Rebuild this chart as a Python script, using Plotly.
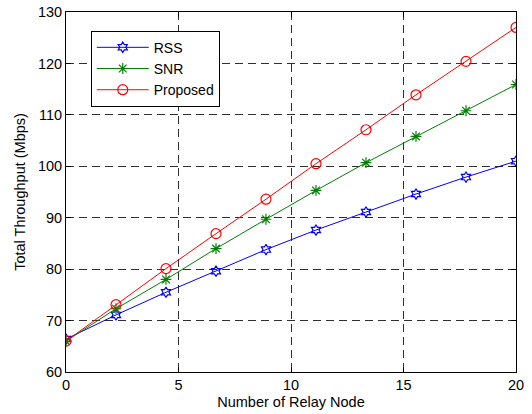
import numpy as np
import plotly.graph_objects as go

relay_nodes = [0, 2.222, 4.444, 6.667, 8.889, 11.111, 13.333, 15.556, 17.778, 20]
rss = [66.4, 71.1, 75.5, 79.6, 83.8, 87.6, 91.1, 94.6, 97.9, 101.0]
snr = [66.0, 72.3, 78.0, 84.0, 89.7, 95.3, 100.7, 105.8, 110.8, 115.9]
proposed = [66.0, 73.1, 80.1, 86.9, 93.6, 100.5, 107.1, 113.9, 120.4, 127.0]

x_ticks = [0, 5, 10, 15, 20]
y_ticks = [60, 70, 80, 90, 100, 110, 120, 130]

FONT = "Liberation Sans, Arial, Helvetica"

fig = go.Figure()
fig.add_trace(go.Scatter(x=relay_nodes, y=rss, name="RSS", mode="lines+markers",
                         line=dict(color="#0000ff", width=1),
                         marker=dict(symbol="hexagram-open", size=8, color="#0000ff", line=dict(width=1.2))))
fig.add_trace(go.Scatter(x=relay_nodes, y=snr, name="SNR", mode="lines+markers",
                         line=dict(color="#008000", width=1),
                         marker=dict(symbol="asterisk-open", size=9, color="#008000", line=dict(width=1.2, color="#008000"))))
fig.add_trace(go.Scatter(x=relay_nodes, y=proposed, name="Proposed", mode="lines+markers",
                         line=dict(color="#ff0000", width=1),
                         marker=dict(symbol="circle-open", size=10, color="#ff0000", line=dict(width=1.2))))

axis_common = dict(
    showline=True, linecolor="black", linewidth=1, mirror="ticks",
    ticks="inside", ticklen=5, tickcolor="black",
    showgrid=True, gridcolor="#303030", griddash="8px,5px", gridwidth=1,
    zeroline=False, automargin=False,
    tickfont=dict(family=FONT, size=14.5, color="black"),
)

fig.update_layout(
    template="none",
    width=532, height=414,
    margin=dict(l=66, r=16, t=12, b=42),
    paper_bgcolor="white", plot_bgcolor="white",
    font=dict(family=FONT, size=14.5, color="black"),
    xaxis=dict(range=[0, 20], tickvals=x_ticks, title=dict(text="Number of Relay Node", standoff=4,
               font=dict(size=14.5)), **axis_common),
    yaxis=dict(range=[60, 130], tickvals=y_ticks, title=dict(text="Total Throughput (Mbps)", standoff=8,
               font=dict(size=14.5)), **axis_common),
    legend=dict(x=0.055, y=0.948, xanchor="left", yanchor="top",
                bgcolor="white", bordercolor="black", borderwidth=1,
                font=dict(size=14), tracegroupgap=0, itemwidth=52),
    showlegend=True,
)

fig.write_html("out.html")
